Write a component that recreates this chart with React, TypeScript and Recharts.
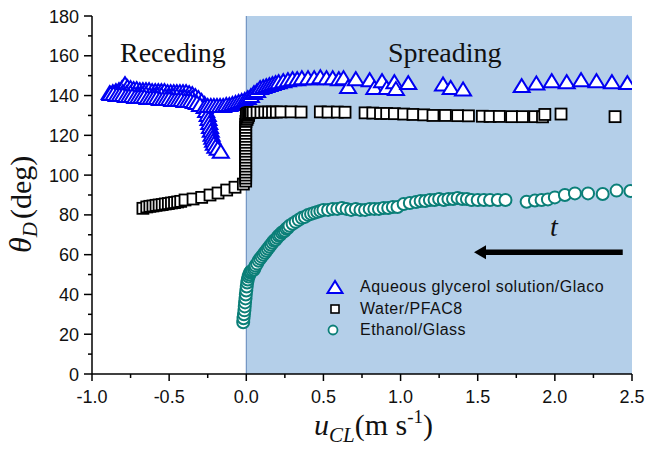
import React from 'react';
import {
  ScatterChart,
  Scatter,
  XAxis,
  YAxis,
  ReferenceArea,
  ReferenceLine,
  Legend,
} from 'recharts';

type Pair = [number, number];

// axis ticks
const xMajorTicks = [-1.0, -0.5, 0.0, 0.5, 1.0, 1.5, 2.0, 2.5];
const xMinorTicks = [-0.75, -0.25, 0.25, 0.75, 1.25, 1.75, 2.25];
const yMajorTicks = [0, 20, 40, 60, 80, 100, 120, 140, 160, 180];
const yMinorTicks = [10, 30, 50, 70, 90, 110, 130, 150, 170];

const seriesNames = ['Aqueous glycerol solution/Glaco', 'Water/PFAC8', 'Ethanol/Glass'];

// Aqueous glycerol solution / Glaco  (u_CL, theta_D)
const glycerolRecedingTop: Pair[] = [
  [-0.885, 141], [-0.865, 141.5], [-0.845, 142], [-0.825, 142.5], [-0.805, 143.5], [-0.786, 145.5],
  [-0.77, 144], [-0.75, 143.5], [-0.73, 143], [-0.71, 143], [-0.69, 142.5], [-0.67, 142.5],
  [-0.65, 142.5], [-0.63, 142.5], [-0.61, 142], [-0.59, 142], [-0.57, 142], [-0.55, 142],
  [-0.53, 142], [-0.51, 141.5], [-0.49, 141.5], [-0.47, 141.5], [-0.45, 141.5], [-0.43, 141.5],
  [-0.41, 141.5], [-0.39, 141.5], [-0.37, 141], [-0.35, 140.5], [-0.33, 139.5], [-0.31, 138.5],
  [-0.29, 137], [-0.27, 135.5],
];
const glycerolRecedingMid: Pair[] = [
  [-0.85, 141], [-0.825, 140.5], [-0.8, 141.5], [-0.775, 141], [-0.75, 141], [-0.725, 140.5],
  [-0.7, 140.5], [-0.675, 140.5], [-0.65, 140.5], [-0.625, 140], [-0.6, 140], [-0.575, 140],
  [-0.55, 140], [-0.525, 139.5], [-0.5, 139.5], [-0.475, 139.5], [-0.45, 139.5], [-0.425, 139],
  [-0.4, 139], [-0.375, 138.5], [-0.35, 138.5],
];
const glycerolRecedingBottom: Pair[] = [
  [-0.88, 140.5], [-0.86, 140.5], [-0.84, 140], [-0.82, 140], [-0.8, 140], [-0.78, 139.5],
  [-0.76, 139.5], [-0.74, 139.5], [-0.72, 139], [-0.7, 139], [-0.68, 139], [-0.66, 139],
  [-0.64, 138.5], [-0.62, 138.5], [-0.6, 138.5], [-0.58, 138.5], [-0.56, 138], [-0.54, 138],
  [-0.52, 138], [-0.5, 138], [-0.48, 137.5], [-0.46, 137.5], [-0.44, 137.5], [-0.42, 137.5],
  [-0.4, 137], [-0.38, 137], [-0.36, 137], [-0.34, 136.5], [-0.32, 136], [-0.3, 135],
];
const glycerolDrop: Pair[] = [
  [-0.27, 134], [-0.26, 132], [-0.25, 130], [-0.245, 128], [-0.24, 126], [-0.235, 124],
  [-0.23, 122], [-0.225, 120], [-0.22, 118.5], [-0.215, 117], [-0.21, 115.5], [-0.2, 114],
  [-0.185, 113], [-0.165, 111.5],
];
const glycerolReturn: Pair[] = [
  [-0.25, 134.5], [-0.23, 134.5], [-0.21, 134.5], [-0.19, 134.5], [-0.17, 134.5], [-0.15, 134.5],
  [-0.13, 135], [-0.11, 135], [-0.09, 135.5], [-0.07, 136], [-0.05, 136.5], [-0.03, 137],
  [-0.01, 137.5], [0.01, 138.5], [0.03, 139.5], [0.05, 141], [0.07, 142], [0.09, 143.5],
  [0.11, 144], [0.13, 144.5], [0.15, 145], [0.17, 145.5], [0.19, 146], [0.21, 146.5],
  [0.24, 147], [0.27, 147.5], [0.3, 148], [0.33, 148], [0.36, 148.5], [0.4, 148.5],
  [0.44, 148.5], [0.48, 149], [0.52, 148.5], [0.56, 148.5], [0.6, 148],
];
const glycerolSpreading: Pair[] = [
  [0.63, 148.5], [0.66, 144], [0.71, 148], [0.8, 147.5], [0.83, 143.5], [0.88, 147],
  [0.91, 143.5], [0.96, 146.5], [0.97, 143], [1.05, 146],
  [1.275, 145.3], [1.325, 143.6], [1.405, 142.8],
  [1.785, 144.5], [1.88, 145.8], [1.98, 147], [2.077, 146.5], [2.17, 147.5], [2.27, 147],
  [2.37, 146.5], [2.47, 146],
];

// Water / PFAC8
const waterReceding: Pair[] = [
  [-0.67, 83.3], [-0.645, 84], [-0.625, 84.3], [-0.605, 84.5], [-0.585, 84.8], [-0.565, 85],
  [-0.545, 85.2], [-0.525, 85.5], [-0.505, 85.7], [-0.485, 86], [-0.465, 86.2], [-0.445, 86.5],
  [-0.425, 86.8], [-0.397, 87.5], [-0.345, 88], [-0.289, 88.8], [-0.235, 90], [-0.183, 91],
  [-0.127, 92.5], [-0.073, 93.9], [-0.019, 95.5],
];
const waterJump: Pair[] = [
  [-0.004, 97], [-0.004, 98.5], [-0.004, 100], [-0.004, 101.5], [-0.004, 103], [-0.004, 104.5],
  [-0.004, 106], [-0.004, 107.5], [-0.004, 109], [-0.004, 110.5], [-0.004, 112], [-0.004, 113.5],
  [-0.004, 115], [-0.004, 116.5], [-0.004, 118], [-0.004, 119.5], [-0.004, 121], [-0.004, 122.5],
  [-0.004, 124], [-0.004, 125.5], [-0.002, 127], [0.005, 128], [0.01, 129], [0.015, 130],
];
const waterSpreading: Pair[] = [
  [0.0, 130.5], [0.008, 131], [0.016, 131.2], [0.024, 131.4], [0.032, 131.5], [0.045, 131.5],
  [0.07, 131.6], [0.095, 131.6], [0.12, 131.7], [0.145, 131.7], [0.17, 131.7], [0.195, 131.7],
  [0.225, 131.8], [0.29, 131.8], [0.355, 131.7], [0.48, 131.8], [0.53, 131.7], [0.59, 131.7],
  [0.64, 131.6], [0.77, 131.3], [0.82, 131.2], [0.87, 131], [0.91, 131], [0.96, 130.9],
  [1.02, 130.7], [1.08, 130.5], [1.15, 130.3], [1.21, 130], [1.29, 130], [1.37, 129.9],
  [1.44, 129.8], [1.53, 129.6], [1.58, 129.5], [1.64, 129.5], [1.72, 129.4], [1.79, 129.4],
  [1.87, 129.4], [1.92, 129.3], [1.935, 130.5], [2.04, 130.7], [2.39, 129.4],
];

// Ethanol / Glass
const ethanolSpreading: Pair[] = [
  [-0.02, 26], [-0.018, 28], [-0.015, 30], [-0.012, 32], [-0.01, 34], [-0.008, 36],
  [-0.005, 38], [-0.003, 40], [0.0, 42], [0.003, 44], [0.006, 46], [0.01, 47.5],
  [0.015, 49], [0.02, 50], [0.025, 51], [0.03, 51.5], [0.04, 52], [0.05, 52.5],
  [0.055, 53.5], [0.06, 54.5], [0.07, 55.5], [0.08, 57], [0.09, 58], [0.1, 59],
  [0.11, 60], [0.12, 61], [0.13, 62], [0.14, 63], [0.15, 64], [0.16, 65],
  [0.17, 66], [0.18, 67], [0.19, 67.5], [0.2, 68.5], [0.21, 69.5], [0.22, 70],
  [0.23, 71], [0.24, 71.5], [0.25, 72], [0.26, 73], [0.27, 73.5], [0.28, 74.5],
  [0.3, 75.5], [0.32, 76.5], [0.34, 77.5], [0.36, 78.5], [0.38, 79], [0.4, 80],
  [0.42, 80.5], [0.44, 81], [0.46, 81.5], [0.48, 82], [0.5, 82.5], [0.53, 82.5],
  [0.56, 83], [0.59, 83], [0.62, 83.5], [0.65, 83], [0.68, 82.5], [0.71, 83],
  [0.74, 82.5], [0.77, 82.5], [0.8, 83], [0.83, 83], [0.86, 83], [0.89, 83.5],
  [0.92, 83.5], [0.95, 84], [0.98, 84], [1.02, 85.5], [1.06, 86], [1.1, 86.5],
  [1.13, 87], [1.16, 87], [1.19, 87.5], [1.22, 87.5], [1.25, 88], [1.28, 87.5],
  [1.31, 88], [1.34, 88], [1.37, 88.5], [1.4, 88], [1.43, 88], [1.46, 87.5],
  [1.5, 87.5], [1.54, 87.5], [1.58, 87.5], [1.63, 87.5], [1.68, 87.5],
  [1.817, 86.6], [1.871, 87.2], [1.914, 87.5], [1.955, 87.8], [2.0, 88.8], [2.065, 90],
  [2.13, 90.8], [2.215, 90.8], [2.31, 90.5], [2.4, 92.2], [2.49, 92],
];

// arrow annotation (data coords)
const arrowFrom = { x: 2.44, y: 61.2 };
const arrowTo = { x: 1.476, y: 61.2 };

const toPoints = (pairs: Pair[]) => pairs.map(([x, y]) => ({ x, y }));

const glycerolData = toPoints([
  ...glycerolRecedingTop,
  ...glycerolRecedingMid,
  ...glycerolRecedingBottom,
  ...glycerolDrop,
  ...glycerolReturn,
  ...glycerolSpreading,
]);
const waterData = toPoints([...waterReceding, ...waterJump, ...waterSpreading]);
const ethanolData = toPoints(ethanolSpreading);

const xTicks = [...xMajorTicks, ...xMinorTicks].sort((a, b) => a - b);
const yTicks = [...yMajorTicks, ...yMinorTicks].sort((a, b) => a - b);

const BLUE = '#0000f2';
const TEAL = '#0b7f78';
const SHADE = '#b4cfe9';
const SANS = 'Arial, "Liberation Sans", sans-serif';
const SERIF = '"Times New Roman", "Liberation Serif", serif';
const axisLine = { stroke: '#000', strokeWidth: 1.5 };

const TriangleMark = (props: any) => {
  const { cx, cy } = props;
  if (cx == null || cy == null) return null;
  return (
    <polygon
      points={`${cx},${cy - 7.5} ${cx - 8},${cy + 5.5} ${cx + 8},${cy + 5.5}`}
      fill="#fff"
      stroke={BLUE}
      strokeWidth={2}
    />
  );
};

const SquareMark = (props: any) => {
  const { cx, cy } = props;
  if (cx == null || cy == null) return null;
  return <rect x={cx - 5.5} y={cy - 5.5} width={11} height={11} fill="#fff" stroke="#000" strokeWidth={1.8} />;
};

const CircleMark = (props: any) => {
  const { cx, cy } = props;
  if (cx == null || cy == null) return null;
  return <circle cx={cx} cy={cy} r={6} fill="#fff" stroke={TEAL} strokeWidth={2} />;
};

const BottomTick = (props: any) => {
  const { x, y, payload } = props;
  const major = xMajorTicks.includes(payload.value);
  return (
    <g>
      <line x1={x} y1={y} x2={x} y2={y + (major ? 7 : 4)} stroke="#000" strokeWidth={1.5} />
      {major && (
        <text x={x} y={y + 29} textAnchor="middle" fontFamily={SANS} fontSize={18} fill="#111">
          {payload.value.toFixed(1)}
        </text>
      )}
    </g>
  );
};

const TopTick = (props: any) => {
  const { x, y, payload } = props;
  const major = xMajorTicks.includes(payload.value);
  return <line x1={x} y1={y} x2={x} y2={y + (major ? 6 : 4)} stroke="#000" strokeWidth={1.5} />;
};

const LeftTick = (props: any) => {
  const { x, y, payload } = props;
  const major = yMajorTicks.includes(payload.value);
  return (
    <g>
      <line x1={x - (major ? 8 : 4)} y1={y} x2={x} y2={y} stroke="#000" strokeWidth={1.5} />
      {major && (
        <text x={x - 13} y={y + 6.5} textAnchor="end" fontFamily={SANS} fontSize={18} fill="#111">
          {payload.value}
        </text>
      )}
    </g>
  );
};

const RightTick = (props: any) => {
  const { x, y, payload } = props;
  const major = yMajorTicks.includes(payload.value);
  return <line x1={x - (major ? 6 : 4)} y1={y} x2={x} y2={y} stroke="#000" strokeWidth={1.5} />;
};

const ArrowShape = (props: any) => {
  const { x1, y1, x2, y2 } = props;
  if (x1 == null || x2 == null) return null;
  return (
    <g>
      <line x1={x1} y1={y1} x2={x2 + 9} y2={y2} stroke="#000" strokeWidth={5.5} />
      <polygon points={`${x2},${y2} ${x2 + 12},${y2 - 7} ${x2 + 12},${y2 + 7}`} fill="#000" />
    </g>
  );
};

const legendMarks = [
  <polygon key="t" points="10,4 2.5,16 17.5,16" fill="#fff" stroke={BLUE} strokeWidth={2} />,
  <rect key="s" x={6} y={6} width={8} height={8} fill="#fff" stroke="#000" strokeWidth={1.6} />,
  <circle key="c" cx={8} cy={10} r={4.5} fill="#fff" stroke={TEAL} strokeWidth={1.8} />,
];

const LegendContent = () => (
  <div style={{ fontFamily: SANS, fontSize: 16, letterSpacing: 0.5, color: '#111' }}>
    {seriesNames.map((name, i) => (
      <div key={name} style={{ display: 'flex', alignItems: 'center', height: 21.7, whiteSpace: 'nowrap' }}>
        <svg width={20} height={20} style={{ display: 'block' }}>
          {legendMarks[i]}
        </svg>
        <span style={{ marginLeft: 15 }}>{name}</span>
      </div>
    ))}
  </div>
);

export default function App() {
  return (
    <div style={{ position: 'absolute', left: 0, top: 0, width: 648, height: 449, background: '#fff' }}>
      <ScatterChart width={648} height={449} margin={{ top: 16, right: 16, bottom: 35, left: 32 }}>
        <ReferenceArea x1={0} x2={2.5} y1={0} y2={180} fill={SHADE} fillOpacity={1} stroke="none" />
        <ReferenceLine x={0} stroke="#5f84b8" strokeWidth={1} />
        <XAxis
          type="number"
          dataKey="x"
          domain={[-1, 2.5]}
          ticks={xTicks}
          interval={0}
          height={40}
          tickSize={0}
          tickMargin={0}
          tickLine={false}
          axisLine={axisLine}
          tick={BottomTick}
          allowDataOverflow
        />
        <XAxis
          xAxisId="top"
          orientation="top"
          type="number"
          domain={[-1, 2.5]}
          ticks={xTicks}
          interval={0}
          height={0}
          tickSize={0}
          tickMargin={0}
          tickLine={false}
          axisLine={axisLine}
          tick={TopTick}
          allowDataOverflow
        />
        <YAxis
          type="number"
          dataKey="y"
          domain={[0, 180]}
          ticks={yTicks}
          interval={0}
          width={60}
          tickSize={0}
          tickMargin={0}
          tickLine={false}
          axisLine={axisLine}
          tick={LeftTick}
          allowDataOverflow
        />
        <YAxis
          yAxisId="right"
          orientation="right"
          type="number"
          domain={[0, 180]}
          ticks={yTicks}
          interval={0}
          width={0}
          tickSize={0}
          tickMargin={0}
          tickLine={false}
          axisLine={axisLine}
          tick={RightTick}
          allowDataOverflow
        />
        <ReferenceLine segment={[arrowFrom, arrowTo]} shape={ArrowShape} />
        <Scatter name={seriesNames[0]} data={glycerolData} shape={TriangleMark} isAnimationActive={false} />
        <Scatter name={seriesNames[1]} data={waterData} shape={SquareMark} isAnimationActive={false} />
        <Scatter name={seriesNames[2]} data={ethanolData} shape={CircleMark} isAnimationActive={false} />
        <Legend
          layout="vertical"
          align="center"
          verticalAlign="middle"
          content={LegendContent}
          wrapperStyle={{ left: 325, top: 276, width: 320 }}
        />
      </ScatterChart>
      <svg
        width={648}
        height={449}
        style={{ position: 'absolute', left: 0, top: 0, pointerEvents: 'none' }}
      >
        <text x={120} y={62} fontFamily={SERIF} fontSize={28} fill="#111">Receding</text>
        <text x={388} y={62} fontFamily={SERIF} fontSize={28} fill="#111">Spreading</text>
        <text x={550} y={236} fontFamily={SERIF} fontSize={28} fontStyle="italic" fill="#111">t</text>
        <text transform="translate(31,253) rotate(-90)" fontFamily={SERIF} fontSize={30} fill="#111">
          <tspan fontStyle="italic" fontSize={32}>θ</tspan>
          <tspan fontStyle="italic" fontSize={21} dy={6}>D</tspan>
          <tspan dy={-6} dx={3}>(deg)</tspan>
        </text>
        <text x={314} y={435} fontFamily={SERIF} fontSize={30} fill="#111">
          <tspan fontStyle="italic">u</tspan>
          <tspan fontStyle="italic" fontSize={21} dy={7}>CL</tspan>
          <tspan dy={-7}>(m s</tspan>
          <tspan fontSize={19} dy={-12}>-1</tspan>
          <tspan dy={12}>)</tspan>
        </text>
      </svg>
    </div>
  );
}
